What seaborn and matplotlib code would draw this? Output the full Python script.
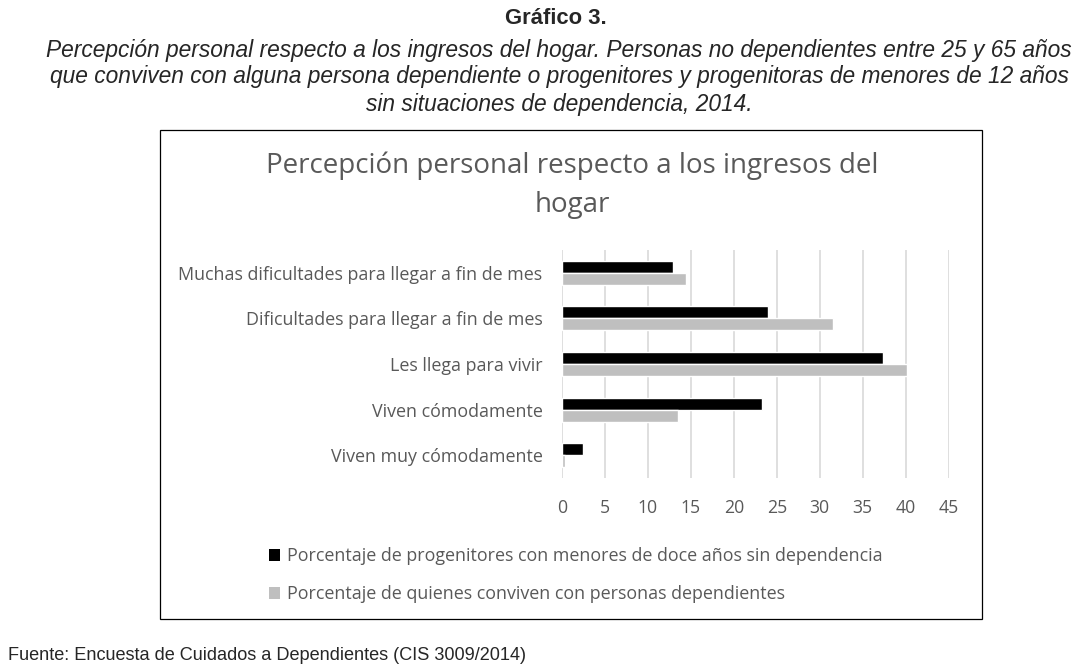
import matplotlib
matplotlib.use("Agg")
import matplotlib.pyplot as plt
import seaborn as sns
import pandas as pd
from matplotlib.patches import Rectangle, Patch

categories = ["Muchas dificultades para llegar a fin de mes",
              "Dificultades para llegar a fin de mes",
              "Les llega para vivir",
              "Viven cómodamente",
              "Viven muy cómodamente"]
series_names = ["Porcentaje de progenitores con menores de doce años sin dependencia",
                "Porcentaje de quienes conviven con personas dependientes"]
progenitores = [12.9, 24.0, 37.4, 23.3, 2.4]
conviven = [14.4, 31.5, 40.2, 13.5, 0.3]
xticks = [0, 5, 10, 15, 20, 25, 30, 35, 40, 45]

df = pd.DataFrame({
    "cat": categories * 2,
    "val": progenitores + conviven,
    "serie": [series_names[0]] * 5 + [series_names[1]] * 5,
})

sns.set_theme(style="white")
plt.rcParams['font.family'] = ['Open Sans', 'DejaVu Sans']

fig = plt.figure(figsize=(10.87, 6.70), dpi=100)
W, H = 1087, 670
ax = fig.add_axes([562 / W, 1 - 478 / H, (948.7 - 562) / W, (478 - 250) / H])

palette = {series_names[0]: "#000000", series_names[1]: "#bfbfbf"}
sns.barplot(data=df, y="cat", x="val", hue="serie", orient="h", palette=palette,
            width=0.53, ax=ax, legend=False, saturation=1)

ax.set_xlim(0, 45)
ax.set_xticks(xticks)
ax.set_xlabel("")
ax.set_ylabel("")
for s in ax.spines.values():
    s.set_visible(False)
ax.grid(axis="x", color="#d9d9d9", linewidth=1.2)
ax.set_axisbelow(True)
ax.tick_params(axis="x", labelsize=12.7, colors="#595959", pad=15, length=0)
ax.tick_params(axis="y", labelsize=12.9, colors="#595959", pad=14, length=0)

# Chart border
fig.patches.append(Rectangle((160 / W, 1 - 619 / H), (982 - 160) / W, (619 - 130) / H,
                             transform=fig.transFigure, fill=False, edgecolor="#000000",
                             linewidth=0.9))

# Chart title
fig.text(572 / W, 1 - 166 / H, "Percepción personal respecto a los ingresos del",
         ha="center", va="center", fontsize=20, color="#595959")
fig.text(572 / W, 1 - 205 / H, "hogar", ha="center", va="center", fontsize=20, color="#595959")

# Legend
handles = [Patch(facecolor="#000000", edgecolor="none"), Patch(facecolor="#bfbfbf", edgecolor="none")]
leg = fig.legend(handles, series_names, loc="upper left", bbox_to_anchor=(262 / W, 1 - 540 / H),
                 frameon=False, fontsize=12.9, handlelength=0.6, handleheight=0.6,
                 handletextpad=0.4, labelspacing=1.12, borderaxespad=0)
for t in leg.get_texts():
    t.set_color("#595959")

# Header
hf = ['Liberation Sans', 'DejaVu Sans']
fig.text(556 / W, 1 - 19 / H, "Gráfico 3.", ha="center", va="center",
         fontsize=15.8, fontweight="bold", family=hf)
lines = ["Percepción personal respecto a los ingresos del hogar. Personas no dependientes entre 25 y 65 años",
         "que conviven con alguna persona dependiente o progenitores y progenitoras de menores de 12 años",
         "sin situaciones de dependencia, 2014."]
for i, l in enumerate(lines):
    fig.text(559 / W, 1 - (50 + 27 * i) / H, l, ha="center", va="center",
             fontsize=16.4, style="italic", family=hf)

fig.text(8 / W, 1 - 655 / H, "Fuente: Encuesta de Cuidados a Dependientes (CIS 3009/2014)",
         ha="left", va="center", fontsize=13.1, family=hf)

fig.savefig("out.png", dpi=100)
